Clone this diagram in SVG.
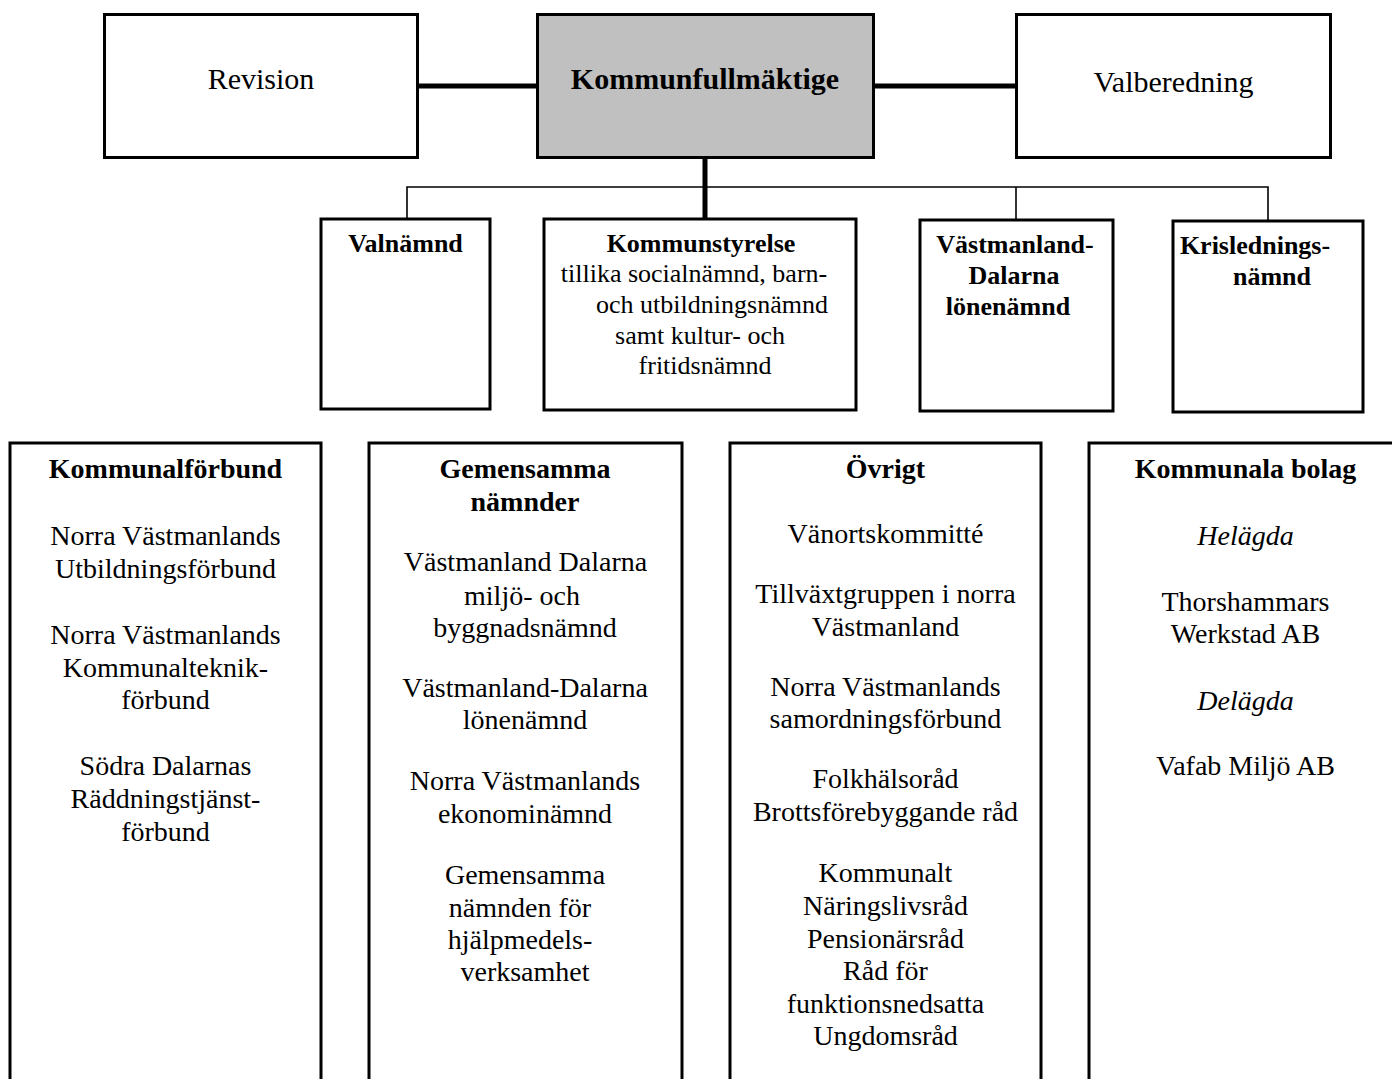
<svg xmlns="http://www.w3.org/2000/svg" width="1392" height="1079" viewBox="0 0 1392 1079">
<style>
.box{fill:#fff;stroke:#000;stroke-width:3}
.kf{fill:#c0c0c0;stroke:#000;stroke-width:3}
.thick{stroke:#000;stroke-width:5;fill:none}
.thin{stroke:#000;stroke-width:1.6;fill:none}
text{font-family:"Liberation Serif","Times New Roman",serif;fill:#000;text-anchor:middle}
.t30{font-size:30px}
.kft{font-size:30px;font-weight:bold}
.mh{font-size:26px;font-weight:bold}
.mb{font-size:26px}
.bh{font-size:28px;font-weight:bold}
.bb{font-size:28px}
.it{font-style:italic}
</style>
<rect width="1392" height="1079" fill="#fff"/>
<g id="connectors">
<line class="thick" x1="417" y1="86" x2="537" y2="86"/>
<line class="thick" x1="873" y1="86" x2="1016" y2="86"/>
<line class="thick" x1="705" y1="157" x2="705" y2="219"/>
<polyline class="thin" points="407,219 407,187 1268,187 1268,221"/>
<line class="thin" x1="1016" y1="187" x2="1016" y2="220"/>
</g>
<g id="revision">
<rect class="box" x="104.5" y="14.5" width="313" height="143"/>
<text class="t30" x="261" y="89">Revision</text>
</g>
<g id="kommunfullmaktige">
<rect class="kf" x="537.5" y="14.5" width="336" height="143"/>
<text class="kft" x="705" y="89">Kommunfullmäktige</text>
</g>
<g id="valberedning">
<rect class="box" x="1016.5" y="14.5" width="314" height="143"/>
<text class="t30" x="1173.5" y="92">Valberedning</text>
</g>
<g id="valnamnd">
<rect class="box" x="321" y="219" width="169" height="190"/>
<text class="mh" x="405.5" y="252">Valnämnd</text>
</g>
<g id="kommunstyrelse">
<rect class="box" x="544" y="219" width="312" height="191"/>
<text class="mh" x="701" y="252">Kommunstyrelse</text>
<text class="mb" x="694" y="282">tillika socialnämnd, barn-</text>
<text class="mb" x="712" y="313">och utbildningsnämnd</text>
<text class="mb" x="700" y="344">samt kultur- och</text>
<text class="mb" x="705" y="374">fritidsnämnd</text>
</g>
<g id="vastmanland-dalarna">
<rect class="box" x="920" y="220" width="193" height="191"/>
<text class="mh" x="1015" y="253">Västmanland-</text>
<text class="mh" x="1014" y="284">Dalarna</text>
<text class="mh" x="1008" y="315">lönenämnd</text>
</g>
<g id="krisledningsnamnd">
<rect class="box" x="1173" y="221" width="190" height="191"/>
<text class="mh" x="1255" y="254">Krislednings-</text>
<text class="mh" x="1272" y="285">nämnd</text>
</g>
<g id="kommunalforbund">
<rect class="box" x="10" y="443" width="311" height="650"/>
<text class="bh" x="165.5" y="478">Kommunalförbund</text>
<text class="bb" x="165.5" y="545">Norra Västmanlands</text>
<text class="bb" x="165.5" y="578">Utbildningsförbund</text>
<text class="bb" x="165.5" y="644">Norra Västmanlands</text>
<text class="bb" x="165.5" y="677">Kommunalteknik-</text>
<text class="bb" x="165.5" y="709">förbund</text>
<text class="bb" x="165.5" y="775">Södra Dalarnas</text>
<text class="bb" x="165.5" y="808">Räddningstjänst-</text>
<text class="bb" x="165.5" y="841">förbund</text>
</g>
<g id="gemensamma-namnder">
<rect class="box" x="369" y="443" width="313" height="650"/>
<text class="bh" x="525" y="478">Gemensamma</text>
<text class="bh" x="525" y="511">nämnder</text>
<text class="bb" x="525.5" y="571">Västmanland Dalarna</text>
<text class="bb" x="522" y="605">miljö- och</text>
<text class="bb" x="525" y="637">byggnadsnämnd</text>
<text class="bb" x="525" y="697">Västmanland-Dalarna</text>
<text class="bb" x="525" y="729">lönenämnd</text>
<text class="bb" x="525" y="790">Norra Västmanlands</text>
<text class="bb" x="525" y="823">ekonominämnd</text>
<text class="bb" x="525" y="884">Gemensamma</text>
<text class="bb" x="520" y="917">nämnden för</text>
<text class="bb" x="520" y="949">hjälpmedels-</text>
<text class="bb" x="525" y="981">verksamhet</text>
</g>
<g id="ovrigt">
<rect class="box" x="730" y="443" width="311" height="650"/>
<text class="bh" x="885.5" y="478">Övrigt</text>
<text class="bb" x="885.5" y="543">Vänortskommitté</text>
<text class="bb" x="885.5" y="603">Tillväxtgruppen i norra</text>
<text class="bb" x="885.5" y="636">Västmanland</text>
<text class="bb" x="885.5" y="696">Norra Västmanlands</text>
<text class="bb" x="885.5" y="728">samordningsförbund</text>
<text class="bb" x="885.5" y="788">Folkhälsoråd</text>
<text class="bb" x="885.5" y="821">Brottsförebyggande råd</text>
<text class="bb" x="885.5" y="882">Kommunalt</text>
<text class="bb" x="885.5" y="915">Näringslivsråd</text>
<text class="bb" x="885.5" y="948">Pensionärsråd</text>
<text class="bb" x="885.5" y="980">Råd för</text>
<text class="bb" x="885.5" y="1013">funktionsnedsatta</text>
<text class="bb" x="885.5" y="1045">Ungdomsråd</text>
</g>
<g id="kommunala-bolag">
<rect class="box" x="1089" y="443" width="313" height="650"/>
<text class="bh" x="1245.5" y="478">Kommunala bolag</text>
<text class="bb it" x="1245.5" y="545">Helägda</text>
<text class="bb" x="1245.5" y="611">Thorshammars</text>
<text class="bb" x="1245.5" y="643">Werkstad AB</text>
<text class="bb it" x="1245.5" y="710">Delägda</text>
<text class="bb" x="1245.5" y="775">Vafab Miljö AB</text>
</g>
</svg>
